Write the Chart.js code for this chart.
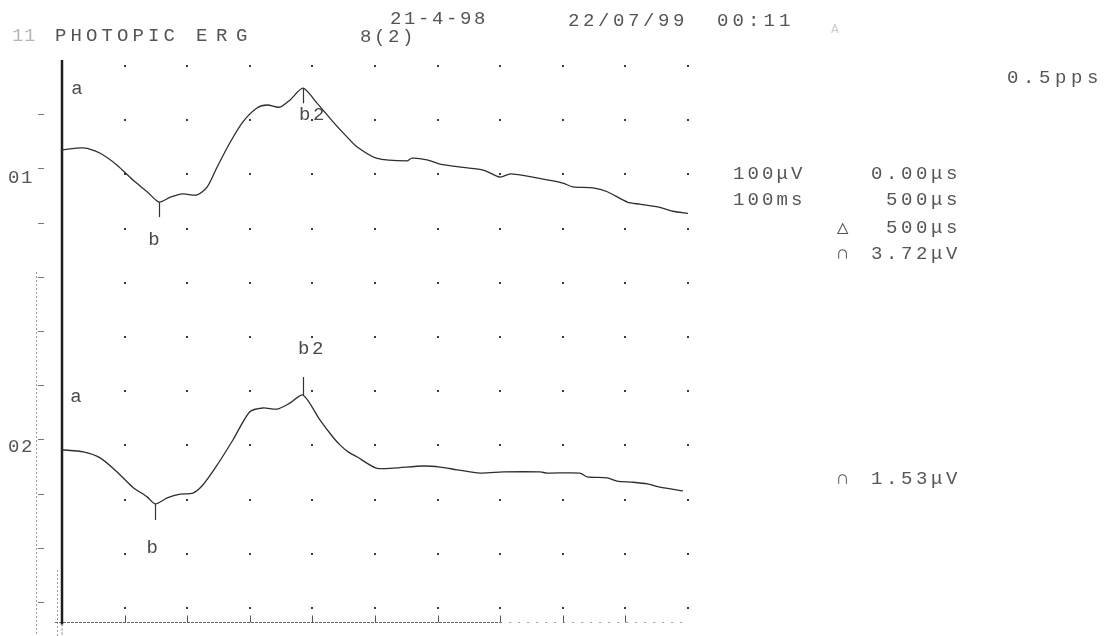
<!DOCTYPE html>
<html>
<head>
<meta charset="utf-8">
<title>Photopic ERG</title>
<script src="https://cdn.jsdelivr.net/npm/chart.js@4/dist/chart.umd.min.js"></script>
<style>
  html, body { margin: 0; padding: 0; background: #ffffff; }
  #wrap { width: 1104px; height: 636px; position: relative; }
  canvas { display: block; }
</style>
</head>
<body>
<div id="wrap"><canvas id="erg" width="1104" height="636"></canvas></div>
<script>
// Sweep: 100 ms over 10 divisions; vertical position in screen divisions (0 = bottom row).
const ch01Time  = [0, 3.4, 6.1, 8.8, 11.3, 13.6, 15.5, 17.3, 19.3, 21.6,
                   23.2, 24.8, 26.8, 28.9, 31.2, 32.8, 34.8, 36.4, 38.5, 40.7,
                   43.3, 45.7, 47.1, 50.2, 55.1, 55.9, 58.3, 60.4, 64.1, 67.3,
                   70.0, 71.6, 74.3, 77.5, 80.0, 81.6, 84.8, 87.1, 90.3, 92.3,
                   95.5, 97.6, 100];
const ch01Level = [8.45, 8.49, 8.39, 8.17, 7.90, 7.68, 7.49, 7.58, 7.64, 7.62,
                   7.77, 8.14, 8.58, 8.97, 9.23, 9.28, 9.24, 9.37, 9.59, 9.32,
                   8.97, 8.67, 8.51, 8.30, 8.25, 8.30, 8.27, 8.19, 8.13, 8.08,
                   7.95, 8.01, 7.97, 7.90, 7.84, 7.77, 7.75, 7.68, 7.49, 7.45,
                   7.39, 7.32, 7.28];

const ch02Time  = [0, 3.4, 6.1, 8.8, 11.3, 13.6, 14.9, 16.8, 18.9, 20.9,
                   22.5, 24.8, 27.3, 30.0, 32.1, 34.4, 36.4, 38.5, 41.2, 43.3,
                   44.4, 45.7, 47.1, 50.2, 52.9, 57.7, 60.4, 63.1, 66.8, 70.5,
                   76.4, 77.5, 82.7, 83.9, 87.1, 88.7, 91.2, 93.5, 95.5, 99.2];
const ch02Level = [2.92, 2.88, 2.77, 2.51, 2.23, 2.05, 1.92, 2.03, 2.10, 2.12,
                   2.27, 2.64, 3.10, 3.62, 3.69, 3.67, 3.78, 3.93, 3.47, 3.15,
                   3.01, 2.88, 2.79, 2.58, 2.58, 2.62, 2.60, 2.55, 2.49, 2.51,
                   2.51, 2.49, 2.49, 2.42, 2.40, 2.34, 2.32, 2.29, 2.23, 2.16];

// Cursor marks placed on each trace (time in ms)
const cursorNames  = ['a', 'b', 'b2'];
const ch01CursorMs = [0, 15.5, 38.5];
const ch02CursorMs = [0, 14.9, 38.5];

// Grid divisions
const timeDivisions  = [10, 20, 30, 40, 50, 60, 70, 80, 90, 100];
const levelDivisions = [0, 1, 2, 3, 4, 5, 6, 7, 8, 9, 10];

// Channel names and settings readout
const channelNames  = ['01', '02'];
const scaleReadout  = ['100μV', '100ms'];
const cursorReadout = ['0.00μs', '500μs', '500μs', '3.72μV'];
const ch02Readout   = '1.53μV';

const FONT = '"Liberation Mono", "DejaVu Sans Mono", monospace';

function pts(t, v) { return t.map((x, i) => ({ x: x, y: v[i] })); }

function spaced(ctx, str, x, y, adv) {
  const chars = Array.from(str);
  chars.forEach((ch, i) => ctx.fillText(ch, x + i * adv, y));
}
function spacedRight(ctx, str, right, y, adv, glyphW) {
  const n = Array.from(str).length;
  spaced(ctx, str, right - (n - 1) * adv - glyphW, y, adv);
}

const ergOverlay = {
  id: 'ergOverlay',
  beforeDatasetsDraw(chart) {
    const ctx = chart.ctx;
    const xs = chart.scales.x, ys = chart.scales.y;
    const x0 = xs.getPixelForValue(0);
    const xEnd = xs.getPixelForValue(100);
    const yBottom = ys.getPixelForValue(0);
    ctx.save();

    // dotted grid at every division
    ctx.fillStyle = '#3a3a3a';
    timeDivisions.forEach(t => {
      const px = Math.round(xs.getPixelForValue(t));
      levelDivisions.forEach(l => {
        const py = Math.round(ys.getPixelForValue(l));
        ctx.fillRect(px - 1, py - 1, 2, 2);
      });
    });

    // left ruler ticks
    ctx.strokeStyle = '#777';
    ctx.lineWidth = 1;
    levelDivisions.slice(0, 10).forEach(l => {
      const py = Math.round(ys.getPixelForValue(l)) - 6 + 0.5;
      ctx.beginPath();
      ctx.moveTo(38, py);
      ctx.lineTo(44, py);
      ctx.stroke();
    });

    // dashed rail on the far left of the lower half
    ctx.setLineDash([2, 2]);
    ctx.strokeStyle = '#999';
    ctx.beginPath();
    ctx.moveTo(36.5, 272);
    ctx.lineTo(36.5, 636);
    ctx.stroke();
    ctx.beginPath();
    ctx.moveTo(57.5, 570);
    ctx.lineTo(57.5, 636);
    ctx.stroke();

    // time axis under the grid
    const axisY = yBottom + 14.5;
    ctx.setLineDash([3, 1]);
    ctx.strokeStyle = '#666';
    ctx.beginPath();
    ctx.moveTo(55, axisY);
    ctx.lineTo(xs.getPixelForValue(70), axisY);
    ctx.stroke();
    ctx.setLineDash([2, 7]);
    ctx.strokeStyle = '#9a9a9a';
    ctx.beginPath();
    ctx.moveTo(xs.getPixelForValue(70), axisY);
    ctx.lineTo(xEnd, axisY);
    ctx.stroke();
    ctx.setLineDash([]);
    ctx.strokeStyle = '#555';
    timeDivisions.slice(0, 9).forEach(t => {
      const px = Math.round(xs.getPixelForValue(t)) + 0.5;
      ctx.beginPath();
      ctx.moveTo(px, axisY - 7);
      ctx.lineTo(px, axisY);
      ctx.stroke();
    });

    // main vertical axis
    ctx.strokeStyle = '#1e1e1e';
    ctx.lineWidth = 2.5;
    ctx.beginPath();
    ctx.moveTo(x0, 60);
    ctx.lineTo(x0, axisY + 2);
    ctx.stroke();
    ctx.lineWidth = 1;
    ctx.setLineDash([2, 2]);
    ctx.strokeStyle = '#777';
    ctx.beginPath();
    ctx.moveTo(x0, axisY + 2);
    ctx.lineTo(x0, 636);
    ctx.stroke();
    ctx.restore();
  },
  afterDatasetsDraw(chart) {
    const ctx = chart.ctx;
    const xs = chart.scales.x, ys = chart.scales.y;
    ctx.save();
    ctx.textBaseline = 'middle';
    ctx.textAlign = 'left';

    // cursor ticks and their names
    const layouts = [
      // [label dx, label dy, tick length] for a, b, b2
      [[15, -61, 0], [-5, 38, 15], [9, 27, 15]],
      [[14, -53, 0], [-3, 44, 16], [8, -46, -18]]
    ];
    const traces = [[ch01Time, ch01Level, ch01CursorMs], [ch02Time, ch02Level, ch02CursorMs]];
    traces.forEach((tr, c) => {
      const [tArr, vArr, cur] = tr;
      cur.forEach((ms, k) => {
        const idx = tArr.indexOf(ms);
        const px = xs.getPixelForValue(ms);
        const py = ys.getPixelForValue(vArr[idx]);
        const [dx, dy, tick] = layouts[c][k];
        if (tick !== 0) {
          ctx.strokeStyle = '#333';
          ctx.lineWidth = 1.2;
          ctx.beginPath();
          ctx.moveTo(Math.round(px) + 0.5, py);
          ctx.lineTo(Math.round(px) + 0.5, py + tick);
          ctx.stroke();
        }
        ctx.fillStyle = '#4a4a4a';
        ctx.font = '19px ' + FONT;
        ctx.textAlign = 'center';
        const name = cursorNames[k];
        if (name.length > 1) {
          ctx.textAlign = 'left';
          spaced(ctx, name, px + dx - 13, py + dy, 14);
        } else {
          ctx.fillText(name, px + dx, py + dy);
        }
        ctx.textAlign = 'left';
      });
    });

    // header line
    ctx.font = '19px ' + FONT;
    ctx.fillStyle = '#b5b5b5';
    spaced(ctx, '11', 12, 36, 12);
    ctx.fillStyle = '#555';
    spaced(ctx, 'PHOTOPIC', 55, 36, 15.5);
    spaced(ctx, 'ERG', 196, 36, 20);
    spaced(ctx, '8(2)', 360, 37, 14);
    spaced(ctx, '21-4-98', 390, 19, 14);
    spaced(ctx, '22/07/99', 568, 21, 15);
    spaced(ctx, '00:11', 717, 21, 15.5);
    ctx.fillStyle = '#cfcfcf';
    ctx.font = '13px ' + FONT;
    ctx.fillText('A', 831, 30);
    ctx.font = '19px ' + FONT;
    ctx.fillStyle = '#555';
    spaced(ctx, '0.5pps', 1007, 78, 16);

    // channel names
    spaced(ctx, channelNames[0], 8, 178, 13);
    spaced(ctx, channelNames[1], 8, 447, 13);

    // settings and cursor readout
    const rowY = [174, 200, 228, 254];
    spaced(ctx, scaleReadout[0], 733, rowY[0], 14.5);
    spaced(ctx, scaleReadout[1], 733, rowY[1], 14.5);
    cursorReadout.forEach((s, i) => spacedRight(ctx, s, 957, rowY[i], 15, 11));
    ctx.fillText('△', 837, rowY[2]);
    ctx.fillText('∩', 837, rowY[3]);
    spacedRight(ctx, ch02Readout, 957, 479, 15, 11);
    ctx.fillText('∩', 837, 479);
    ctx.restore();
  }
};

new Chart(document.getElementById('erg'), {
  type: 'line',
  data: {
    datasets: [
      { label: '01', data: pts(ch01Time, ch01Level) },
      { label: '02', data: pts(ch02Time, ch02Level) }
    ]
  },
  options: {
    responsive: false,
    devicePixelRatio: 1,
    animation: false,
    parsing: true,
    layout: { padding: { left: 62, top: 66, right: 416, bottom: 28 } },
    elements: {
      line: { borderColor: '#2e2e2e', borderWidth: 1.3, tension: 0.25, fill: false },
      point: { radius: 0, hoverRadius: 0 }
    },
    scales: {
      x: { type: 'linear', min: 0, max: 100, display: false },
      y: { type: 'linear', min: 0, max: 10, display: false }
    },
    plugins: {
      legend: { display: false },
      tooltip: { enabled: false }
    }
  },
  plugins: [ergOverlay]
});
</script>
</body>
</html>
